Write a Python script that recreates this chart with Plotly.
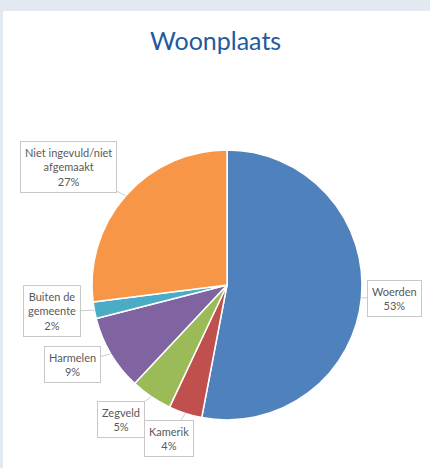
import math
import plotly.graph_objects as go

labels = ["Woerden", "Kamerik", "Zegveld", "Harmelen", "Buiten de gemeente", "Niet ingevuld/niet afgemaakt"]
label_text = ["Woerden", "Kamerik", "Zegveld", "Harmelen", "Buiten de<br>gemeente", "Niet ingevuld/niet<br>afgemaakt"]
values = [53, 4, 5, 9, 2, 27]
colors = ["#4f81bd", "#c0504d", "#9bbb59", "#8064a2", "#4bacc6", "#f79646"]

W, H = 430, 468
cx, cy, r = 227, 285, 135  # pixel centre / radius of pie

# box centre offsets (pixels) relative to pie-edge anchor
offsets = [(33, 1), (-16, 25), (-30, 23), (-38, 11), (-42, 1), (-57, -29)]

fig = go.Figure()
fig.add_trace(go.Pie(
    labels=labels, values=values, sort=False, direction="clockwise", rotation=0,
    marker=dict(colors=colors, line=dict(color="white", width=1.5)),
    textinfo="none", hoverinfo="label+percent", showlegend=False,
    domain=dict(x=[(cx - r) / W, (cx + r) / W], y=[(H - cy - r) / H, (H - cy + r) / H]),
))

total = sum(values)
cum = 0
annotations = []
for i, v in enumerate(values):
    mid = (cum + v / 2) / total * 2 * math.pi
    cum += v
    px = cx + r * math.sin(mid)
    py = cy - r * math.cos(mid)
    pct = round(v / total * 100)
    dx, dy = offsets[i]
    annotations.append(dict(
        x=px / W, y=1 - py / H, xref="paper", yref="paper",
        text=f"{label_text[i]}<br>{pct}%",
        showarrow=True, arrowhead=0, arrowwidth=0.8, arrowcolor="#bfbfbf",
        ax=dx, ay=dy, standoff=0,
        font=dict(family="Lato", size=11, color="#595959"),
        bgcolor="white", bordercolor="#c8c8c8", borderwidth=1, borderpad=4,
        align="center",
    ))

annotations.append(dict(
    x=215 / W, y=1 - 40 / H, xref="paper", yref="paper", showarrow=False,
    text="Woonplaats", font=dict(family="Lato", size=25, color="#1f5aa0"),
    xanchor="center", yanchor="middle",
))

fig.update_layout(
    width=W, height=H, margin=dict(l=0, r=0, t=0, b=0),
    paper_bgcolor="#e3e9f0", plot_bgcolor="white",
    shapes=[dict(type="rect", xref="paper", yref="paper", x0=3 / W, x1=1, y0=0, y1=1 - 11 / H,
                 fillcolor="white", line=dict(width=0), layer="below")],
    annotations=annotations,
)

fig.write_html("out.html", config={"displayModeBar": False},
               post_script="document.body.style.margin='0';document.body.style.overflow='hidden';")
